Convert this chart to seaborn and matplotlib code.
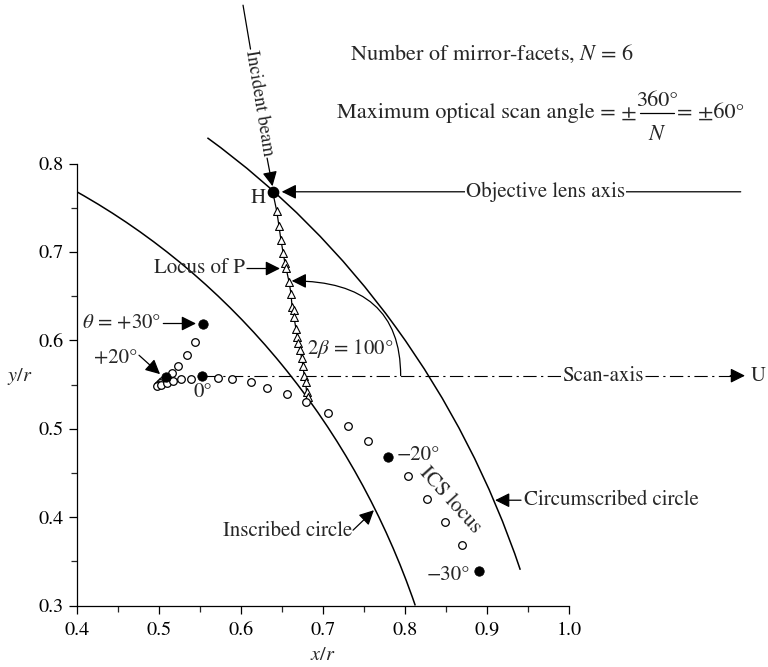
import matplotlib
matplotlib.use("Agg")
import matplotlib.pyplot as plt
from matplotlib.patches import Arc
from matplotlib.ticker import FormatStrFormatter
import pandas as pd
import seaborn as sns

# ICS locus: scan angle theta (deg) and normalised image-centre position
theta = [30, 28, 26, 24, 22, 20, 18, 16, 14, 12, 10, 8, 6, 4, 2, 0,
         -2, -4, -6, -8, -10, -12, -14, -16, -18, -20, -22, -24, -26, -28, -30]
ics_x = [0.5544, 0.5447, 0.5340, 0.5234, 0.5164, 0.5082, 0.5045, 0.5015, 0.4996,
         0.4984, 0.5027, 0.5100, 0.5171, 0.5268, 0.5389, 0.5529,
         0.5717, 0.5895, 0.6121, 0.6322, 0.6558, 0.6793, 0.7057, 0.7301,
         0.7551, 0.7795, 0.8032, 0.8263, 0.8486, 0.8689, 0.8896]
ics_y = [0.6186, 0.5976, 0.5829, 0.5709, 0.5630, 0.5586, 0.5545, 0.5515, 0.5498,
         0.5486, 0.5498, 0.5517, 0.5545, 0.5557, 0.5566, 0.5600,
         0.5575, 0.5560, 0.5529, 0.5464, 0.5398, 0.5297, 0.5175, 0.5028,
         0.4862, 0.4681, 0.4463, 0.4210, 0.3946, 0.3690, 0.3388]
labelled_theta = [30, 20, 0, -20, -30]

# Locus of the point P
p_x = [0.6436, 0.6464, 0.6488, 0.6516, 0.6537, 0.6549, 0.6586, 0.6610, 0.6623,
       0.6641, 0.6647, 0.6671, 0.6689, 0.6699, 0.6720, 0.6741, 0.6756, 0.6772,
       0.6787, 0.6801, 0.6814]
p_y = [0.7464, 0.7291, 0.7132, 0.6982, 0.6872, 0.6821, 0.6663, 0.6529, 0.6378,
       0.6340, 0.6261, 0.6126, 0.6035, 0.5964, 0.5888, 0.5797, 0.5707, 0.5594,
       0.5526, 0.5416, 0.5353]

# Point H (beam incidence on the facet corner)
h_x, h_y = 0.6387, 0.768

scan_axis_y = 0.56
r_circumscribed = 1.0
r_inscribed = 0.866
circ_span = (19.9, 56.0)   # degrees
insc_span = (20.27, 62.5)  # degrees

x_ticks = [0.4, 0.5, 0.6, 0.7, 0.8, 0.9, 1.0]
y_ticks = [0.3, 0.4, 0.5, 0.6, 0.7, 0.8]

sns.set_theme(style="ticks")
plt.rcParams["font.family"] = ["STIXGeneral", "DejaVu Serif"]
plt.rcParams["mathtext.fontset"] = "stix"

FS = 15
HFS = 16
fig = plt.figure(figsize=(7.68, 6.67), dpi=100)
ax = fig.add_axes([76.7 / 768, 61.5 / 667, 691.3 / 768, 605.5 / 667])
ax.set_xlim(0.4, 0.4 + 691.3 / 821)
ax.set_ylim(0.3, 0.3 + 605.5 / 884)

# axes styling
for side in ("top", "right"):
    ax.spines[side].set_visible(False)
ax.spines["left"].set_bounds(y_ticks[0], y_ticks[-1])
ax.spines["bottom"].set_bounds(x_ticks[0], x_ticks[-1])
for side in ("left", "bottom"):
    ax.spines[side].set_linewidth(0.9)
    ax.spines[side].set_color("black")
ax.set_xticks(x_ticks)
ax.set_yticks(y_ticks)
ax.set_xticks([v + 0.05 for v in x_ticks[:-1]], minor=True)
ax.set_yticks([v + 0.05 for v in y_ticks[:-1]], minor=True)
ax.xaxis.set_major_formatter(FormatStrFormatter("%.1f"))
ax.yaxis.set_major_formatter(FormatStrFormatter("%.1f"))
ax.tick_params(which="major", direction="out", length=6, width=0.9,
               labelsize=14.5, colors="black")
ax.tick_params(which="minor", direction="out", length=4.3, width=0.9)
ax.tick_params(axis="x", which="major", pad=6)
ax.tick_params(axis="y", which="major", pad=3.5)
ax.text(0.7, 0.244, "$x/r$", ha="center", va="center", fontsize=14.5, clip_on=False)
ax.text(0.331, 0.5594, "$y/r$", ha="center", va="center", fontsize=14.5, clip_on=False)

# inscribed and circumscribed circles
ax.add_patch(Arc((0, 0), 2 * r_circumscribed, 2 * r_circumscribed,
                 theta1=circ_span[0], theta2=circ_span[1], lw=1.1, color="black"))
ax.add_patch(Arc((0, 0), 2 * r_inscribed, 2 * r_inscribed,
                 theta1=insc_span[0], theta2=insc_span[1], lw=1.1, color="black"))

ARROW = dict(arrowstyle="-|>,head_length=0.4,head_width=0.2", mutation_scale=22,
             lw=0.9, color="black", shrinkA=0, shrinkB=0)


def arrow(start, tip, **kw):
    props = dict(ARROW)
    props.update(kw)
    ax.annotate("", xy=tip, xytext=start, arrowprops=props,
                annotation_clip=False)


# locus of P
loc = pd.DataFrame({"x": [h_x] + p_x, "y": [h_y] + p_y})
sns.lineplot(data=loc, x="x", y="y", sort=False, estimator=None,
             color="black", lw=0.9, ax=ax)
tri = pd.DataFrame({"x": p_x, "y": p_y})
sns.scatterplot(data=tri, x="x", y="y", marker="^", s=32, facecolor="white",
                edgecolor="black", linewidth=0.8, ax=ax, zorder=4)

# ICS locus
ics = pd.DataFrame({"theta": theta, "x": ics_x, "y": ics_y})
ics["marked"] = ics["theta"].isin(labelled_theta)
sns.scatterplot(data=ics[~ics["marked"]], x="x", y="y", marker="o", s=30,
                facecolor="white", edgecolor="black", linewidth=0.9, ax=ax, zorder=4)
sns.scatterplot(data=ics[ics["marked"]], x="x", y="y", marker="o", s=46,
                color="black", edgecolor="black", ax=ax, zorder=5)

# point H
ax.scatter([h_x], [h_y], s=55, color="black", zorder=6)
ax.text(0.6212, 0.7604, "H", ha="center", va="center", fontsize=FS)
ax.set_xlabel("")
ax.set_ylabel("")

# scan axis (dash-dot) with arrow to U
ax.plot([0.5565, 1.198], [scan_axis_y, scan_axis_y], color="black", lw=0.8,
        linestyle=(0, (12, 4, 2, 4)), zorder=2)
arrow((1.196, scan_axis_y), (1.214, scan_axis_y))
ax.text(1.0411, scan_axis_y, "Scan-axis", ha="center", va="center", fontsize=FS,
        bbox=dict(fc="white", ec="none", pad=0.6), zorder=3)
ax.text(1.2296, scan_axis_y, "U", ha="center", va="center", fontsize=FS)

# objective lens axis
arrow((1.2088, h_y), (0.6497, h_y))
ax.text(0.971, h_y, "Objective lens axis", ha="center", va="center", fontsize=FS,
        bbox=dict(fc="white", ec="none", pad=0.6), zorder=3)

# incident beam
ax.plot([0.6026, 0.6117], [0.9791, 0.9294], color="black", lw=0.9, clip_on=False)
ax.text(0.6222, 0.8682, "Incident beam", rotation=-80.7, ha="center", va="center",
        rotation_mode="anchor", fontsize=13.5)
arrow((0.6319, 0.8061), (0.6385, 0.7743))

# locus of P label
ax.text(0.6050, 0.6812, "Locus of P", ha="right", va="center", fontsize=FS)
arrow((0.6074, 0.6812), (0.6476, 0.6812))

# 2 beta angle
ax.annotate("", xy=(0.6619, 0.6672), xytext=(0.7946, scan_axis_y),
            arrowprops=dict(ARROW, connectionstyle="angle3,angleA=90,angleB=0"))
ax.text(0.6801, 0.5902, r"$2\beta$ = 100°", ha="left", va="center", fontsize=FS)

# theta labels
ax.text(0.5027, 0.6190, r"$\theta$ = +30°", ha="right", va="center", fontsize=FS)
arrow((0.5055, 0.6190), (0.5453, 0.6190))
ax.text(0.4479, 0.5805, "+20°", ha="center", va="center", fontsize=FS)
arrow((0.4759, 0.5831), (0.5015, 0.5617))
ax.text(0.5542, 0.5416, "0°", ha="center", va="center", fontsize=FS)
ax.text(0.7898, 0.4700, "\u221220°", ha="left", va="center", fontsize=FS)
ax.text(0.8791, 0.3343, "\u221230°", ha="right", va="center", fontsize=FS)
ax.text(0.8547, 0.4191, "ICS locus", rotation=-48, ha="center", va="center",
        rotation_mode="anchor", fontsize=FS)

# circle labels
ax.text(0.7353, 0.3840, "Inscribed circle", ha="right", va="center", fontsize=FS)
arrow((0.7366, 0.3852), (0.7620, 0.4078))
ax.text(0.9448, 0.4191, "Circumscribed circle", ha="left", va="center", fontsize=FS)
arrow((0.9412, 0.4191), (0.9096, 0.4191))

# header text
ax.text(0.7329, 0.9169, "Number of mirror-facets, $N$ = 6", ha="left",
        va="baseline", fontsize=HFS)
ax.text(1.0825, 0.8518, "Maximum optical scan angle = \u00b1", ha="right",
        va="baseline", fontsize=HFS)
ax.text(1.1069, 0.8648, "360°", ha="center", va="baseline", fontsize=HFS)
ax.plot([1.0862, 1.1276], [0.8569, 0.8569], color="black", lw=0.9, clip_on=False)
ax.text(1.1069, 0.8262, "$N$", ha="center", va="baseline", fontsize=HFS)
ax.text(1.1313, 0.8518, "= \u00b160°", ha="left", va="baseline", fontsize=HFS)

fig.savefig("out.png", dpi=100)
